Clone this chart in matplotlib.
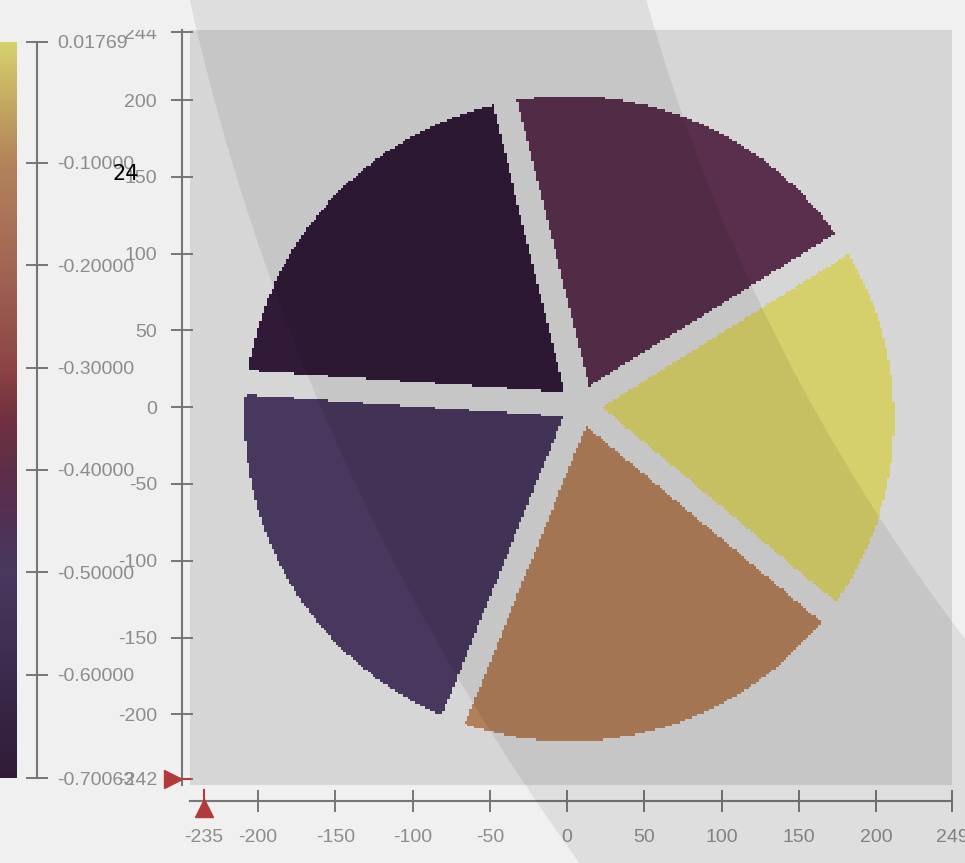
import numpy as np
import matplotlib
matplotlib.use('Agg')
import matplotlib.pyplot as plt
from matplotlib.colors import LinearSegmentedColormap
from matplotlib.patches import Wedge
from matplotlib import transforms

# wafer zone values, each zone starts at this angle (deg) and spans to the next
zone_start_deg = [32, 104, 176, 248, 320]
zone_values = [-0.42, -0.70063, -0.50, -0.11, 0.01769]

vmin, vmax = -0.70063, 0.01769
cbar_ticks = [0.01769, -0.1, -0.2, -0.3, -0.4, -0.5, -0.6, -0.70063]

cursor_x = -235
cursor_y = -242
x_ticks = [cursor_x, -200, -150, -100, -50, 0, 50, 100, 150, 200, 249]
y_ticks = [cursor_y, -200, -150, -100, -50, 0, 50, 100, 150, 200, 244]

# colormap (value, colour)
cmap_vals = [-0.70063, -0.6, -0.5, -0.45, -0.4, -0.35, -0.3, -0.2, -0.1, -0.04, 0.01769]
cmap_cols = ['#301a38', '#3a2a4c', '#48385e', '#523054', '#5e2e48', '#703040',
             '#8c4444', '#a26654', '#b2825a', '#c4a862', '#d6d06c']

# wafer geometry
wafer_cx, wafer_cy, wafer_r = 1.5, -7.5, 210
hub_x, hub_y = 9, 1
gap_half = 8
cell = 1.6

W, H = 965, 863
plt.rcParams['font.family'] = ['Liberation Sans', 'DejaVu Sans']
plt.rcParams['axes.unicode_minus'] = False

pos = [(v - vmin) / (vmax - vmin) for v in cmap_vals]
cmap = LinearSegmentedColormap.from_list('zones', list(zip(pos, cmap_cols)))

# build the die grid
xe = np.arange(-244, 250 + cell, cell)
ye = np.arange(-246, 246 + cell, cell)
X, Y = np.meshgrid((xe[:-1] + xe[1:]) / 2, (ye[:-1] + ye[1:]) / 2)
inside = (X - wafer_cx)**2 + (Y - wafer_cy)**2 <= wafer_r**2
dx, dy = X - hub_x, Y - hub_y
ang = np.degrees(np.arctan2(dy, dx)) % 360
start = np.array(zone_start_deg)
rel = (ang - start[0]) % 360
bounds = (start - start[0]) % 360
idx = np.searchsorted(bounds, rel, side='right') - 1
gap = np.zeros_like(inside)
for g in zone_start_deg:
    ux, uy = np.cos(np.radians(g)), np.sin(np.radians(g))
    proj = dx * ux + dy * uy
    perp = np.abs(dx * uy - dy * ux)
    d = np.where(proj > 0, perp, np.hypot(dx, dy))
    gap |= d < gap_half
Z = np.ma.masked_where(~inside | gap, np.array(zone_values)[idx])

fig = plt.figure(figsize=(W / 100, H / 100), dpi=100)
fig.patch.set_facecolor('#f0f0f0')
px = transforms.Affine2D().scale(1 / W, 1 / H) + fig.transFigure

ax = fig.add_axes([190 / W, 1 - 785 / H, (952 - 190) / W, (785 - 30) / H])
ax.set_facecolor('#d6d6d6')
mesh = ax.pcolormesh(xe, ye, Z, cmap=cmap, vmin=vmin, vmax=vmax, antialiased=False)
ax.set_xlim(-244, 249)
ax.set_ylim(-246, 245.6)
ax.set_xticks(x_ticks)
ax.set_yticks(y_ticks)
for s in ['top', 'right']:
    ax.spines[s].set_visible(False)
ax.spines['left'].set_position(('outward', 5.8))
ax.spines['bottom'].set_position(('outward', 11.5))
for s in ['left', 'bottom']:
    ax.spines[s].set_color('#767676')
    ax.spines[s].set_linewidth(1.5)
ax.tick_params(direction='inout', length=16, width=1.4, colors='#767676',
               labelcolor='#8c8c8c', labelsize=14)
ax.tick_params(axis='y', pad=10)
ax.tick_params(axis='x', pad=12)

# top label is cut off by the panel edge in the screenshot
top_clip = transforms.TransformedBbox(transforms.Bbox([[0, 0], [W, H - 30]]), px)
top_lbl = ax.get_yticklabels()[-1]
top_lbl.set_clip_on(True)
top_lbl.set_clip_box(top_clip)

# cursor markers
red = '#b23a3a'
ax.plot([cursor_x], [-0.0305], marker='^', ms=13, color=red,
        transform=ax.get_xaxis_transform(), clip_on=False, zorder=10)
ax.plot([cursor_x, cursor_x], [-0.0066, -0.022], color=red, lw=1.5,
        transform=ax.get_xaxis_transform(), clip_on=False, zorder=10)
ax.plot([-0.0223], [cursor_y], marker='>', ms=13, color=red,
        transform=ax.get_yaxis_transform(), clip_on=False, zorder=10)
ax.plot([-0.013, 0], [cursor_y, cursor_y], color=red, lw=1.5,
        transform=ax.get_yaxis_transform(), clip_on=False, zorder=10)

# colour strip
cax = fig.add_axes([0, 1 - 778 / H, 17 / W, (778 - 42) / H])
cb = fig.colorbar(mesh, cax=cax)
cb.outline.set_visible(False)
cb.set_ticks(cbar_ticks)
cb.set_ticklabels(['{:.5f}'.format(t) for t in cbar_ticks])
cax.spines['right'].set_visible(True)
cax.spines['right'].set_position(('outward', 14.4))
cax.spines['right'].set_color('#767676')
cax.spines['right'].set_linewidth(1.5)
cax.tick_params(axis='y', right=True, left=False, labelright=True, labelleft=False,
                direction='inout', length=16, width=1.4, colors='#767676',
                labelcolor='#8c8c8c', labelsize=14, pad=6.5)

# glare band from the screenshot
band = Wedge((2460, 1369), 2326, 180, 270, width=443, facecolor='black',
             alpha=0.075, edgecolor='none', transform=px, zorder=5)
fig.add_artist(band)

fig.text(113 / W, 1 - 174 / H, '24', family='DejaVu Sans', fontsize=15,
         color='black', ha='left', va='center', zorder=20)

fig.savefig('out.png', dpi=100, facecolor=fig.get_facecolor())
